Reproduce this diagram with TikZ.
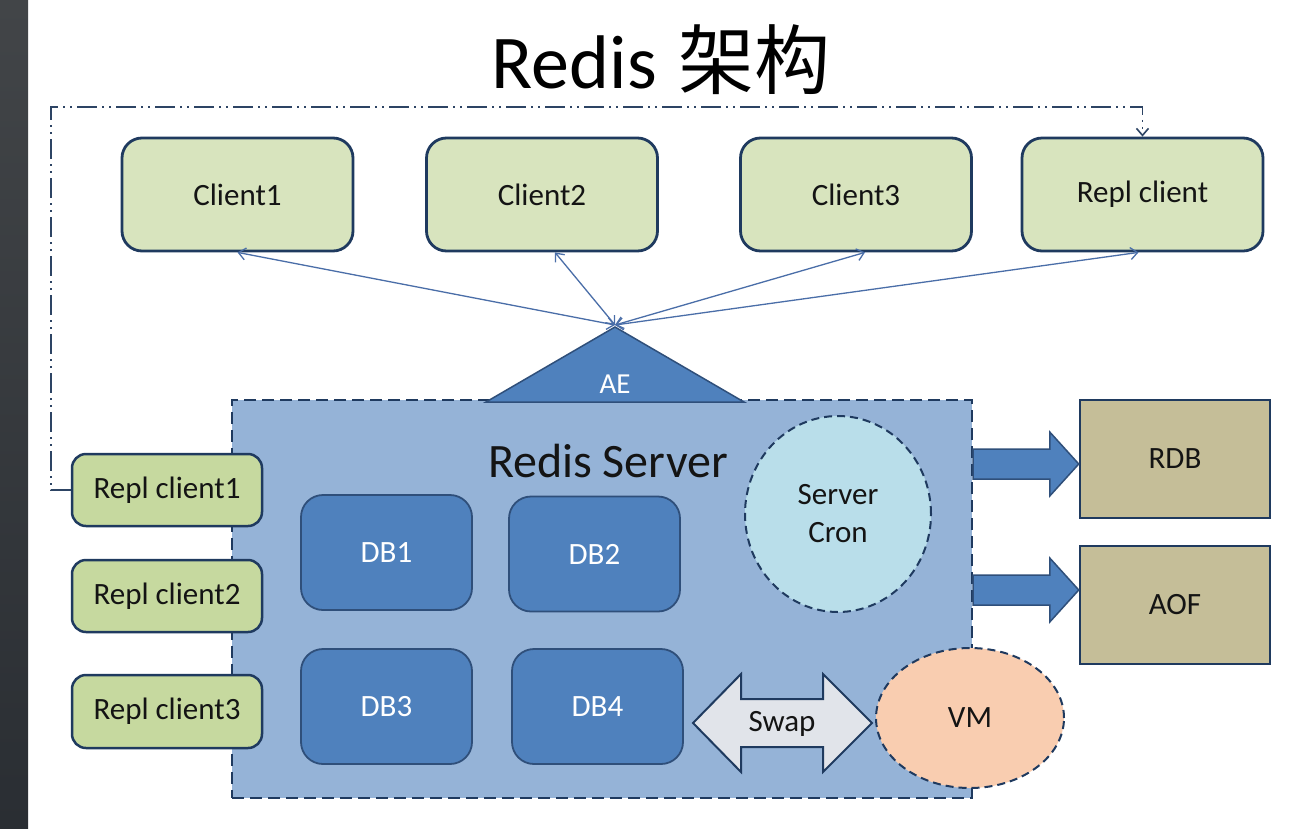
\documentclass[tikz,border=0pt]{standalone}
\usepackage{fontspec}
\setmainfont{Carlito}
\newfontfamily\cjkfont{Noto Sans CJK SC}
\usetikzlibrary{arrows.meta,calc,shapes.geometric}
\definecolor{navy}{HTML}{1F3A5F}
\definecolor{clientfill}{HTML}{D8E4BE}
\definecolor{replfill}{HTML}{C6D99F}
\definecolor{srvfill}{HTML}{95B3D7}
\definecolor{dbfill}{HTML}{4F81BD}
\definecolor{dbline}{HTML}{2F4F7A}
\definecolor{cronfill}{HTML}{B9DEEA}
\definecolor{vmfill}{HTML}{F9CDB0}
\definecolor{swapfill}{HTML}{E1E4EA}
\definecolor{diskfill}{HTML}{C5BE98}
\definecolor{linkc}{HTML}{4A6EA8}
\definecolor{txt}{HTML}{141414}
\newcommand\lblfont{\fontsize{31}{38}\selectfont}
\tikzset{
  client/.style={draw=navy, line width=2.8pt, fill=clientfill, rounded corners=20pt,
    minimum width=231pt, minimum height=113pt, inner sep=0pt, font=\lblfont, text=txt},
  replc/.style={draw=navy, line width=2.5pt, fill=replfill, rounded corners=14pt,
    minimum width=190pt, minimum height=72pt, inner sep=0pt, font=\lblfont, text=txt},
  server/.style={draw=navy, dash pattern=on 12pt off 6pt, line width=2.5pt, fill=srvfill,
    minimum width=740pt, minimum height=398pt, inner sep=0pt},
  dbbox/.style={draw=dbline, line width=1.8pt, fill=dbfill, rounded corners=22pt,
    minimum width=171pt, minimum height=115pt, inner sep=0pt, font=\lblfont, text=white},
  dashell/.style={ellipse, draw=navy, dash pattern=on 8pt off 5pt, line width=2pt,
    inner sep=0pt, font=\lblfont, text=txt, align=center},
  disk/.style={draw=navy, line width=2.5pt, fill=diskfill, minimum width=190pt,
    minimum height=118pt, inner sep=0pt, font=\lblfont, text=txt},
  link/.style={draw=linkc, line width=1.3pt,
    {Straight Barb[length=7pt,width=12pt]}-{Straight Barb[length=7pt,width=12pt]}},
  repllink/.style={draw=navy!85!gray, line width=1.6pt,
    dash pattern=on 20pt off 5pt on 2pt off 5pt on 2pt off 5pt,
    -{Straight Barb[length=7pt,width=12pt]}},
  fatarrow/.style={draw=dbline, line width=1.5pt, fill=dbfill,
    to path={($(\tikztostart)+(0,-15)$) -- ($(\tikztotarget)+(-29,-15)$)
      -- ($(\tikztotarget)+(-29,-32)$) -- (\tikztotarget)
      -- ($(\tikztotarget)+(-29,32)$) -- ($(\tikztotarget)+(-29,15)$)
      -- ($(\tikztostart)+(0,15)$) -- cycle}},
  dblarrow/.style={draw=navy, line width=2pt, fill=swapfill, line join=miter,
    to path={(\tikztostart) -- ($(\tikztostart)+(48,-49)$) -- ($(\tikztostart)+(48,-24)$)
      -- ($(\tikztotarget)+(-49,-24)$) -- ($(\tikztotarget)+(-49,-49)$) -- (\tikztotarget)
      -- ($(\tikztotarget)+(-49,49)$) -- ($(\tikztotarget)+(-49,24)$)
      -- ($(\tikztostart)+(48,24)$) -- ($(\tikztostart)+(48,49)$) -- cycle}},
}
\begin{document}
\begin{tikzpicture}[x=1pt,y=-1pt]
\useasboundingbox (0,0) rectangle (1298,828);
\fill[white] (0,0) rectangle (1298,828);
\shade[top color={rgb,255:red,66;green,69;blue,72}, bottom color={rgb,255:red,42;green,46;blue,51}] (0,0) rectangle (28,828);

% title
\node[anchor=base, text=black, inner sep=0pt] (title) at (661,88)
  {\fontsize{76}{80}\selectfont Redis\hspace{0.28em}{\cjkfont 架构}};

% clients
\node[client] (c1) at (237.5,194.5) {Client1};
\node[client] (c2) at (542,194.5) {Client2};
\node[client] (c3) at (856,194.5) {Client3};
\node[client, minimum width=241pt] (rc) at (1142.5,194.5) {Repl client};

% server
\node[server] (srv) at (602,599) {};
\node[font=\fontsize{48}{52}\selectfont, text=txt] (srvlbl) at (608,461) {Redis Server};

% AE
\draw[draw=dbline, line width=1.5pt, fill=dbfill, line join=miter] (486,402) -- (615,327) -- (744,402) -- cycle;
\coordinate (ae) at (615,325);
\node[font=\fontsize{29}{32}\selectfont, text=white] (aelbl) at (615,384) {AE};

% links
\draw[link] (ae) -- (c1.south);
\draw[link] (ae) -- ([xshift=13pt]c2.south);
\draw[link] (ae) -- ([xshift=9pt]c3.south);
\draw[link] (ae) -- ([xshift=-4pt]rc.south);

% DBs
\node[dbbox] (db1) at (386.5,552.5) {DB1};
\node[dbbox] (db2) at (594.5,554) {DB2};
\node[dbbox] (db3) at (386.5,706.5) {DB3};
\node[dbbox] (db4) at (597.5,706.5) {DB4};

% cron and VM
\node[dashell, fill=cronfill, minimum width=186pt, minimum height=196pt] (cron) at (838,514) {Server\\Cron};
\node[dashell, fill=vmfill, minimum width=188pt, minimum height=140pt] (vm) at (970,718) {VM};

% swap
\coordinate (swl) at (693,723);
\coordinate (swr) at (872,723);
\draw[dblarrow] (swl) to (swr);
\node[font=\lblfont, text=txt] (swaplbl) at (782,724) {Swap};

% disks
\node[disk] (rdb) at (1175,459) {RDB};
\node[disk] (aof) at (1175,605) {AOF};
\coordinate (a1s) at (973,464);
\coordinate (a1e) at (rdb.west |- a1s);
\coordinate (a2s) at (973,590);
\coordinate (a2e) at (aof.west |- a2s);
\draw[fatarrow] (a1s) to (a1e);
\draw[fatarrow] (a2s) to (a2e);

% repl clients
\node[replc] (rc1) at (167,490) {Repl client1};
\node[replc] (rc2) at (167,596) {Repl client2};
\node[replc, minimum height=73pt] (rc3) at (167,711.5) {Repl client3};

% replication link
\coordinate (dd) at (51,107);
\draw[repllink] (rc1.west) -| (dd) -| (rc.north);
\end{tikzpicture}
\end{document}
